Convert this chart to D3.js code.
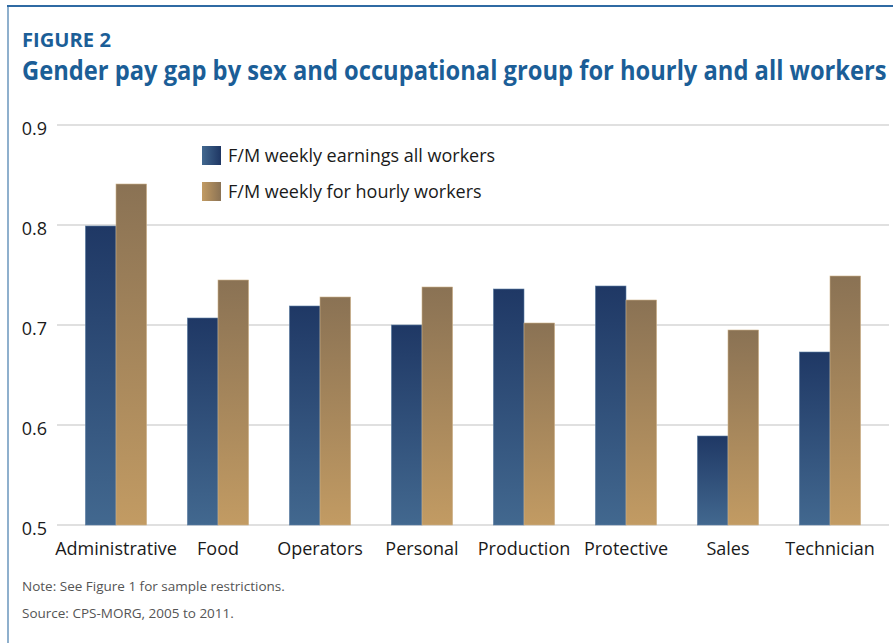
<!DOCTYPE html>
<html>
<head>
<meta charset="utf-8">
<script src="https://cdn.jsdelivr.net/npm/d3@7"></script>
<style>
  html, body { margin: 0; padding: 0; background: #fff; }
  svg { display: block; }
</style>
</head>
<body>
<svg id="chart" width="893" height="643"></svg>
<script>
const categories = ["Administrative", "Food", "Operators", "Personal", "Production", "Protective", "Sales", "Technician"];
const allWorkers = [0.799, 0.707, 0.719, 0.700, 0.736, 0.739, 0.589, 0.673];
const hourlyWorkers = [0.841, 0.745, 0.728, 0.738, 0.702, 0.725, 0.695, 0.749];
const seriesNames = ["F/M weekly earnings all workers", "F/M weekly for hourly workers"];
const yTicks = [0.5, 0.6, 0.7, 0.8, 0.9];

const svg = d3.select("#chart");
const font = "'Open Sans', 'DejaVu Sans', sans-serif";

// gradients
const defs = svg.append("defs");
function grad(id, c1, c2, horizontal) {
  const g = defs.append("linearGradient").attr("id", id)
    .attr("x1", 0).attr("y1", 0)
    .attr("x2", horizontal ? 1 : 0).attr("y2", horizontal ? 0 : 1);
  g.append("stop").attr("offset", "0%").attr("stop-color", c1);
  g.append("stop").attr("offset", "100%").attr("stop-color", c2);
}
grad("gBlue", "#1f3865", "#42688f", false);
grad("gGold", "#8a7254", "#c29b63", false);
grad("gBlueL", "#42688f", "#1e3663", true);
grad("gGoldL", "#c29b63", "#8a7254", true);

// frame
svg.append("line").attr("x1", 8).attr("x2", 8).attr("y1", 6).attr("y2", 643)
  .attr("stroke", "#8fb0cd").attr("stroke-width", 2);
svg.append("line").attr("x1", 7).attr("x2", 893).attr("y1", 6).attr("y2", 6)
  .attr("stroke", "#2f6aa3").attr("stroke-width", 2);

// titles (condensed by horizontal scaling to fit measured widths)
function fitText(txt, xPos, yPos, size, width) {
  const t = svg.append("text").attr("x", 0).attr("y", 0)
    .attr("font-family", font).attr("font-weight", 700).attr("font-size", size)
    .attr("fill", "#1b5e97").text(txt);
  const w = t.node().getComputedTextLength();
  const s = width / w;
  t.attr("transform", `translate(${xPos},${yPos}) scale(${s},1)`);
}
fitText("FIGURE 2", 22, 47, 19, 89);
fitText("Gender pay gap by sex and occupational group for hourly and all workers", 22, 80, 27, 865);

// scales
const x = d3.scaleBand().domain(categories).range([65, 881]).paddingInner(0.4).paddingOuter(0.2);
const x1 = d3.scaleBand().domain([0, 1]).range([0, x.bandwidth()]);
const y = d3.scaleLinear().domain([0.5, 0.9]).range([525, 125]);

// gridlines
svg.append("g").selectAll("line").data(yTicks).join("line")
  .attr("x1", 57).attr("x2", 889)
  .attr("y1", d => y(d)).attr("y2", d => y(d))
  .attr("stroke", "#d6d6d6").attr("stroke-width", 1.5);

// y tick labels
const yAxis = d3.axisLeft(y).tickValues(yTicks).tickFormat(d3.format(".1f")).tickSize(0).tickPadding(0);
const gy = svg.append("g").attr("transform", "translate(47,0)").call(yAxis);
gy.select(".domain").remove();
gy.selectAll("text").attr("font-family", font).attr("font-size", 18).attr("fill", "#1a1a1a")
  .attr("dy", "0.5em");

// bars
const data = categories.map((c, i) => ({ c, vals: [allWorkers[i], hourlyWorkers[i]] }));
const groups = svg.append("g").selectAll("g").data(data).join("g")
  .attr("transform", d => `translate(${x(d.c)},0)`);
groups.selectAll("rect").data(d => d.vals.map((v, k) => ({ v, k }))).join("rect")
  .attr("x", d => x1(d.k))
  .attr("width", x1.bandwidth())
  .attr("y", d => y(d.v))
  .attr("height", d => y(0.5) - y(d.v))
  .attr("fill", d => d.k === 0 ? "url(#gBlue)" : "url(#gGold)")
  .attr("stroke", d => d.k === 0 ? "#5d7ea3" : "#cdb28a")
  .attr("stroke-width", 0.6);

// x labels
const xAxis = d3.axisBottom(x).tickSize(0).tickPadding(0);
const gx = svg.append("g").attr("transform", "translate(0,555)").call(xAxis);
gx.select(".domain").remove();
gx.selectAll("text").attr("font-family", font).attr("font-size", 18).attr("fill", "#1a1a1a")
  .attr("dy", 0);

// legend
const legend = svg.append("g");
seriesNames.forEach((name, i) => {
  const gy0 = 146 + i * 36;
  legend.append("rect").attr("x", 202).attr("y", gy0).attr("width", 19).attr("height", 19)
    .attr("fill", i === 0 ? "url(#gBlueL)" : "url(#gGoldL)");
  legend.append("text").attr("x", 228).attr("y", gy0 + 16)
    .attr("font-family", font).attr("font-size", 18).attr("fill", "#1a1a1a")
    .text(name);
});

// notes
svg.append("text").attr("x", 22).attr("y", 591)
  .attr("font-family", font).attr("font-size", 13.5).attr("fill", "#555")
  .text("Note: See Figure 1 for sample restrictions.");
svg.append("text").attr("x", 22).attr("y", 618)
  .attr("font-family", font).attr("font-size", 13.5).attr("fill", "#555")
  .text("Source: CPS-MORG, 2005 to 2011.");
</script>
</body>
</html>
